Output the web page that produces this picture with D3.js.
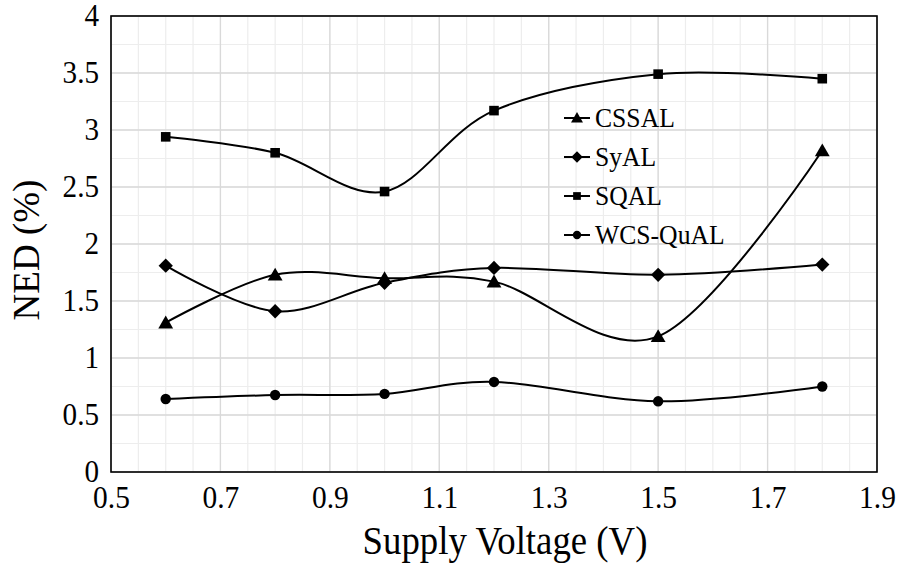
<!DOCTYPE html>
<html>
<head>
<meta charset="utf-8">
<script src="https://cdn.jsdelivr.net/npm/d3@7"></script>
<style>
  html, body { margin: 0; padding: 0; background: #fff; }
  svg text { font-family: "Liberation Serif", "Times New Roman", serif; fill: #000; }
</style>
</head>
<body>
<svg id="chart" width="898" height="564"></svg>
<script>
// Supply voltage sweep (V)
const voltages = [0.6, 0.8, 1.0, 1.2, 1.5, 1.8];

// NED (%) for each adder at each supply voltage
const cssal   = [1.31, 1.73, 1.70, 1.67, 1.19, 2.82];
const syal    = [1.81, 1.41, 1.66, 1.79, 1.73, 1.82];
const sqal    = [2.94, 2.80, 2.46, 3.17, 3.49, 3.45];
const wcsqual = [0.64, 0.675, 0.685, 0.79, 0.62, 0.75];

const seriesNames = ["CSSAL", "SyAL", "SQAL", "WCS-QuAL"];
const seriesValues = [cssal, syal, sqal, wcsqual];
const seriesSymbols = [d3.symbolTriangle, d3.symbolDiamond2, d3.symbolSquare, d3.symbolCircle];

const xTicks = [0.5, 0.7, 0.9, 1.1, 1.3, 1.5, 1.7, 1.9];
const yTicks = [0, 0.5, 1, 1.5, 2, 2.5, 3, 3.5, 4];

const svg = d3.select("#chart");
const margin = { left: 111, right: 21, top: 16, bottom: 92 };
const W = 898, H = 564;
const x = d3.scaleLinear().domain([0.5, 1.9]).range([margin.left, W - margin.right]);
const y = d3.scaleLinear().domain([0, 4]).range([H - margin.bottom, margin.top]);

// Minor grid (x every 0.05, y every 0.25)
const g = svg.append("g");
const xMinor = d3.range(0, 29).map(i => 0.5 + i * 0.05);
const yMinor = d3.range(0, 17).map(i => i * 0.25);
g.selectAll(".vminor").data(xMinor).join("line")
  .attr("x1", d => x(d)).attr("x2", d => x(d))
  .attr("y1", y(0)).attr("y2", y(4))
  .attr("stroke", "#ededed").attr("stroke-width", 1.2);
g.selectAll(".hminor").data(yMinor).join("line")
  .attr("x1", x(0.5)).attr("x2", x(1.9))
  .attr("y1", d => y(d)).attr("y2", d => y(d))
  .attr("stroke", "#ededed").attr("stroke-width", 1.2);
// Major grid
g.selectAll(".vmajor").data(xTicks).join("line")
  .attr("x1", d => x(d)).attr("x2", d => x(d))
  .attr("y1", y(0)).attr("y2", y(4))
  .attr("stroke", "#d9d9d9").attr("stroke-width", 1.3);
g.selectAll(".hmajor").data(yTicks).join("line")
  .attr("x1", x(0.5)).attr("x2", x(1.9))
  .attr("y1", d => y(d)).attr("y2", d => y(d))
  .attr("stroke", "#d9d9d9").attr("stroke-width", 1.3);

// Plot frame
svg.append("rect")
  .attr("x", x(0.5)).attr("y", y(4))
  .attr("width", x(1.9) - x(0.5)).attr("height", y(0) - y(4))
  .attr("fill", "none").attr("stroke", "#000").attr("stroke-width", 1.6);

// Axes (labels only; the frame draws the axis lines)
const xAxis = d3.axisBottom(x).tickValues(xTicks).tickSize(0).tickPadding(0)
  .tickFormat(d3.format(".1f"));
const xa = svg.append("g").attr("transform", `translate(0,${y(0)})`).call(xAxis);
xa.select(".domain").remove();
xa.selectAll("text").attr("font-size", 32).attr("dy", null).attr("y", 0)
  .attr("transform", "translate(0,36) scale(0.92,1)")
  .style("font-family", "'Liberation Serif', serif");

const yAxis = d3.axisLeft(y).tickValues(yTicks).tickSize(0).tickPadding(0)
  .tickFormat(d => d3.format("")(d));
const ya = svg.append("g").attr("transform", `translate(${x(0.5) - 12},0)`).call(yAxis);
ya.select(".domain").remove();
ya.selectAll("text").attr("font-size", 31).attr("dy", "0.32em").attr("x", 0)
  .attr("transform", "scale(0.94,1)")
  .style("font-family", "'Liberation Serif', serif");

// Axis titles
svg.append("text")
  .attr("transform", `translate(${(x(0.5) + x(1.9)) / 2 + 11},554) scale(0.92,1)`)
  .attr("text-anchor", "middle").attr("font-size", 40)
  .text("Supply Voltage (V)");
svg.append("text")
  .attr("transform", `translate(39,${(y(0) + y(4)) / 2 + 6}) rotate(-90)`)
  .attr("text-anchor", "middle").attr("font-size", 37)
  .text("NED (%)");

// Smoothed series lines with markers
const line = d3.line()
  .x((d, i) => x(voltages[i]))
  .y(d => y(d))
  .curve(d3.curveCardinal.tension(0));

const markerSize = [95, 130, 92, 85];
seriesValues.forEach((vals, k) => {
  svg.append("path").datum(vals)
    .attr("d", line)
    .attr("fill", "none").attr("stroke", "#000").attr("stroke-width", 2);
  svg.append("g").selectAll("path").data(vals).join("path")
    .attr("transform", (d, i) => `translate(${x(voltages[i])},${y(d) + (k === 0 ? 1.5 : 0)})`)
    .attr("d", d3.symbol().type(seriesSymbols[k]).size(markerSize[k]))
    .attr("fill", "#000");
});

// Legend
const legend = svg.append("g");
const lgX = 564, lgY0 = 118, lgStep = 39;
seriesNames.forEach((name, k) => {
  const cy = lgY0 + k * lgStep;
  legend.append("line")
    .attr("x1", lgX).attr("x2", lgX + 26).attr("y1", cy).attr("y2", cy)
    .attr("stroke", "#000").attr("stroke-width", 2);
  legend.append("path")
    .attr("transform", `translate(${lgX + 13},${cy + (k === 0 ? 1 : 0)})`)
    .attr("d", d3.symbol().type(seriesSymbols[k]).size(markerSize[k] * 0.65))
    .attr("fill", "#000");
  legend.append("text")
    .attr("transform", `translate(${lgX + 31},${cy}) scale(0.95,1)`)
    .attr("dy", "0.34em")
    .attr("font-size", 27)
    .text(name);
});
</script>
</body>
</html>
